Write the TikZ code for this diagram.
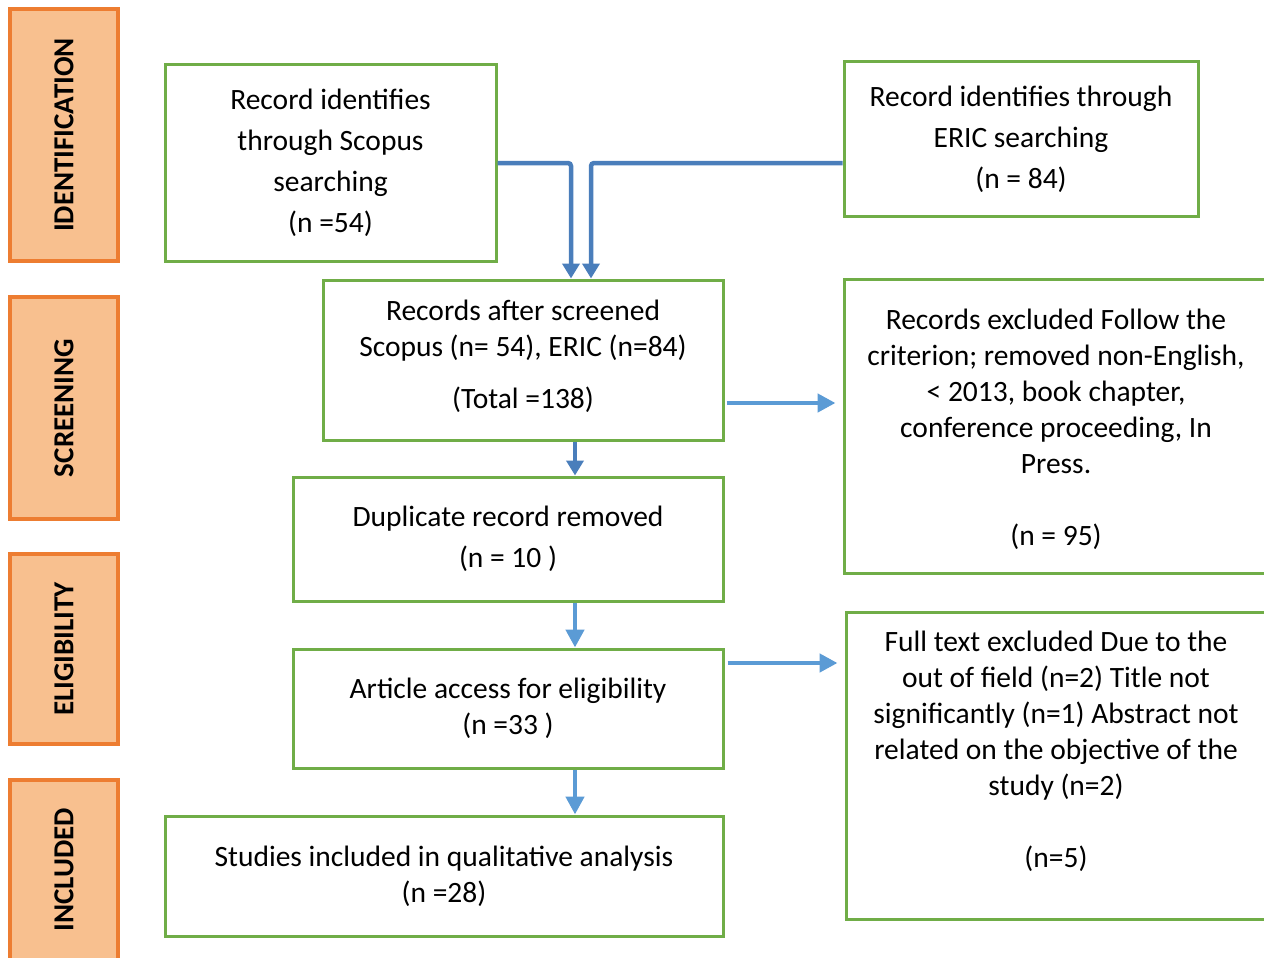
\documentclass[tikz,border=0pt]{standalone}
\usepackage{fontspec}
\setmainfont{Carlito}
\usetikzlibrary{arrows.meta,calc}
\definecolor{grn}{HTML}{70AD47}
\definecolor{org}{HTML}{ED7D31}
\definecolor{orgfill}{HTML}{F8C08F}
\definecolor{dblue}{HTML}{4A7EBB}
\definecolor{lblue}{HTML}{5B9BD5}
\begin{document}
\begin{tikzpicture}[x=1pt,y=-1pt,
  box/.style={draw=grn,line width=3pt,inner sep=0pt,align=center,font=\fontsize{29.5}{41}\selectfont},
  boxb/.style={box,font=\fontsize{29.5}{36}\selectfont},
  stage/.style={draw=org,fill=orgfill,line width=3.5pt,inner sep=0pt,minimum width=108pt},
  stagetext/.style={rotate=90,font=\fontsize{29}{32}\selectfont\bfseries},
  darr/.style={draw=dblue,line width=4.5pt,-{Triangle[length=15pt,width=17pt]}},
  larr/.style={draw=lblue,line width=4.5pt,-{Triangle[length=18pt,width=18pt]}}]
\clip (0,0) rectangle (1264,958);
\fill[white] (0,0) rectangle (1264,958);
% stages
\node[stage,minimum height=252pt] (s1) at (64,135) {};
\node[stagetext] (t1) at (s1) {IDENTIFICATION};
\node[stage,minimum height=222pt] (s2) at (64,408) {};
\node[stagetext] (t2) at (s2) {SCREENING};
\node[stage,minimum height=190pt] (s3) at (64,649) {};
\node[stagetext] (t3) at (s3) {ELIGIBILITY};
\node[stage,minimum height=220pt] (s4) at (64,890) {};
\node[stagetext] (t4) at ([yshift=20pt]s4) {INCLUDED};
% boxes
\node[box,minimum width=331pt,minimum height=196pt] (scopus) at (330.5,163) {Record identifies\\through Scopus\\searching\\(n =54)};
\node[box,minimum width=354pt,minimum height=154pt] (eric) at (1021,139) {Record identifies through\\ERIC searching\\(n = 84)};
\node[boxb,minimum width=400pt,minimum height=160pt] (rec) at (523,360) {};
\node[align=center,font=\fontsize{29.5}{36}\selectfont] (rectext) at (523,356) {Records after screened\\Scopus (n= 54), ERIC (n=84)\\[16pt](Total =138)};
\node[boxb,minimum width=424pt,minimum height=294pt] (excl) at (1056,426) {};
\node[align=center,font=\fontsize{29.5}{36}\selectfont] (excltext) at (1056,429) {Records excluded Follow the\\criterion; removed non-English,\\< 2013, book chapter,\\conference proceeding, In\\Press.\\ \\(n = 95)};
\node[box,minimum width=430pt,minimum height=124pt] (dup) at (508,539) {Duplicate record removed\\(n = 10 )};
\node[boxb,minimum width=430pt,minimum height=119pt] (art) at (508,708.5) {Article access for eligibility\\(n =33 )};
\node[boxb,minimum width=422pt,minimum height=307pt] (ft) at (1057,765.5) {};
\node[align=center,font=\fontsize{29.5}{36}\selectfont] (fttext) at (1056,751) {Full text excluded Due to the\\out of field (n=2) Title not\\significantly (n=1) Abstract not\\related on the objective of the\\study (n=2)\\ \\(n=5)};
\node[boxb,minimum width=558pt,minimum height=120pt] (stu) at (444,876) {Studies included in qualitative analysis\\(n =28)};
% connectors
\draw[darr,rounded corners=3pt] (scopus.east) -| ([xshift=48pt]rec.north);
\draw[darr,rounded corners=3pt] ([yshift=-24pt]eric.west) -| ([xshift=68pt]rec.north);
\draw[darr] ([xshift=52pt]rec.south) -- ([xshift=52pt]rec.south |- dup.north);
\draw[larr] ([xshift=67pt]dup.south) -- ([xshift=67pt]dup.south |- art.north);
\draw[larr] ([xshift=67pt]art.south) -- ([xshift=67pt]art.south |- stu.north);
\draw[larr,shorten <=2pt,shorten >=7pt] ([yshift=-43pt]rec.east) -- ([yshift=-43pt]rec.east -| excl.west);
\draw[larr,shorten <=3pt,shorten >=7pt] ([yshift=45.5pt]art.east) -- ([yshift=45.5pt]art.east -| ft.west);
\end{tikzpicture}
\end{document}
